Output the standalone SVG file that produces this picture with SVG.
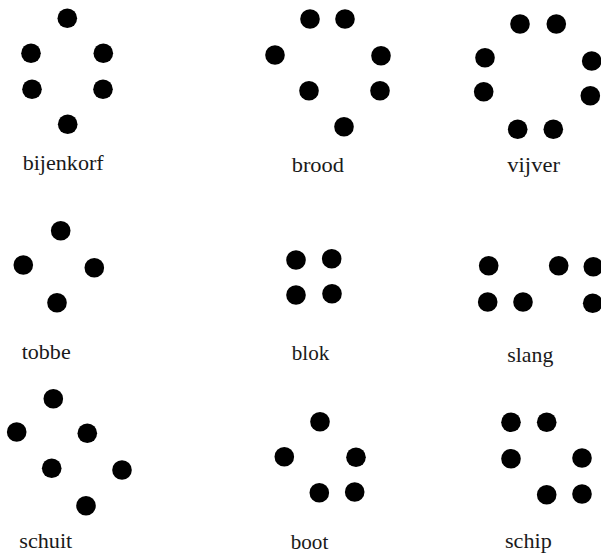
<svg xmlns="http://www.w3.org/2000/svg" width="601" height="554" viewBox="0 0 601 554">
<style>
.d{fill:#000}
.t{font-family:"Liberation Serif","Times New Roman",serif;font-size:21px;fill:#1a1a1a}
</style>
<rect width="601" height="554" fill="#fff"/>
<g id="bijenkorf">
<circle class="d" cx="67.3" cy="18.3" r="9.8"/><circle class="d" cx="31" cy="53.3" r="9.8"/><circle class="d" cx="103.3" cy="53.3" r="9.8"/><circle class="d" cx="32" cy="89.3" r="9.8"/><circle class="d" cx="103" cy="89.3" r="9.8"/><circle class="d" cx="67.7" cy="124.3" r="9.8"/>
<text class="t" x="22.7" y="170" textLength="81" lengthAdjust="spacingAndGlyphs">bijenkorf</text>
</g>
<g id="brood">
<circle class="d" cx="310" cy="19" r="9.8"/><circle class="d" cx="345" cy="19" r="9.8"/><circle class="d" cx="275" cy="55" r="9.8"/><circle class="d" cx="381" cy="55.7" r="9.8"/><circle class="d" cx="309" cy="90.7" r="9.8"/><circle class="d" cx="380" cy="90.7" r="9.8"/><circle class="d" cx="344" cy="126.7" r="9.8"/>
<text class="t" x="291.7" y="172" textLength="52.3" lengthAdjust="spacingAndGlyphs">brood</text>
</g>
<g id="vijver">
<circle class="d" cx="520" cy="24" r="9.8"/><circle class="d" cx="556.3" cy="24" r="9.8"/><circle class="d" cx="485" cy="57.7" r="9.8"/><circle class="d" cx="591.7" cy="61" r="9.8"/><circle class="d" cx="483.7" cy="91.7" r="9.8"/><circle class="d" cx="590.3" cy="95.7" r="9.8"/><circle class="d" cx="517.7" cy="129.3" r="9.8"/><circle class="d" cx="553.3" cy="129.3" r="9.8"/>
<text class="t" x="507.3" y="171.7" textLength="52.7" lengthAdjust="spacingAndGlyphs">vijver</text>
</g>
<g id="tobbe">
<circle class="d" cx="60.7" cy="230.7" r="9.8"/><circle class="d" cx="23.3" cy="265" r="9.8"/><circle class="d" cx="94.3" cy="267.7" r="9.8"/><circle class="d" cx="57" cy="302.7" r="9.8"/>
<text class="t" x="21.7" y="359.3" textLength="49" lengthAdjust="spacingAndGlyphs">tobbe</text>
</g>
<g id="blok">
<circle class="d" cx="296" cy="260" r="9.8"/><circle class="d" cx="331.7" cy="258.7" r="9.8"/><circle class="d" cx="296" cy="295" r="9.8"/><circle class="d" cx="332" cy="293.7" r="9.8"/>
<text class="t" x="291.7" y="360" textLength="37.6" lengthAdjust="spacingAndGlyphs">blok</text>
</g>
<g id="slang">
<circle class="d" cx="488.7" cy="265.7" r="9.8"/><circle class="d" cx="558.7" cy="265.7" r="9.8"/><circle class="d" cx="593.3" cy="266.7" r="9.8"/><circle class="d" cx="487.7" cy="302" r="9.8"/><circle class="d" cx="523" cy="302" r="9.8"/><circle class="d" cx="592.7" cy="303.3" r="9.8"/>
<text class="t" x="507.3" y="361.7" textLength="46" lengthAdjust="spacingAndGlyphs">slang</text>
</g>
<g id="schuit">
<circle class="d" cx="53.3" cy="398.7" r="9.8"/><circle class="d" cx="16.7" cy="432" r="9.8"/><circle class="d" cx="87.3" cy="433.3" r="9.8"/><circle class="d" cx="51.7" cy="468.3" r="9.8"/><circle class="d" cx="122" cy="470" r="9.8"/><circle class="d" cx="86" cy="505.7" r="9.8"/>
<text class="t" x="19.3" y="548.3" textLength="53" lengthAdjust="spacingAndGlyphs">schuit</text>
</g>
<g id="boot">
<circle class="d" cx="320" cy="421.7" r="9.8"/><circle class="d" cx="284.3" cy="456.7" r="9.8"/><circle class="d" cx="356" cy="457.3" r="9.8"/><circle class="d" cx="319.3" cy="492.7" r="9.8"/><circle class="d" cx="354.7" cy="492" r="9.8"/>
<text class="t" x="290.7" y="549" textLength="37.6" lengthAdjust="spacingAndGlyphs">boot</text>
</g>
<g id="schip">
<circle class="d" cx="511" cy="422.3" r="9.8"/><circle class="d" cx="546.7" cy="422.3" r="9.8"/><circle class="d" cx="511" cy="458.7" r="9.8"/><circle class="d" cx="582" cy="458" r="9.8"/><circle class="d" cx="546.7" cy="494.7" r="9.8"/><circle class="d" cx="582" cy="494" r="9.8"/>
<text class="t" x="505" y="547.7" textLength="46.7" lengthAdjust="spacingAndGlyphs">schip</text>
</g>
<g id="connectors"/>
</svg>
